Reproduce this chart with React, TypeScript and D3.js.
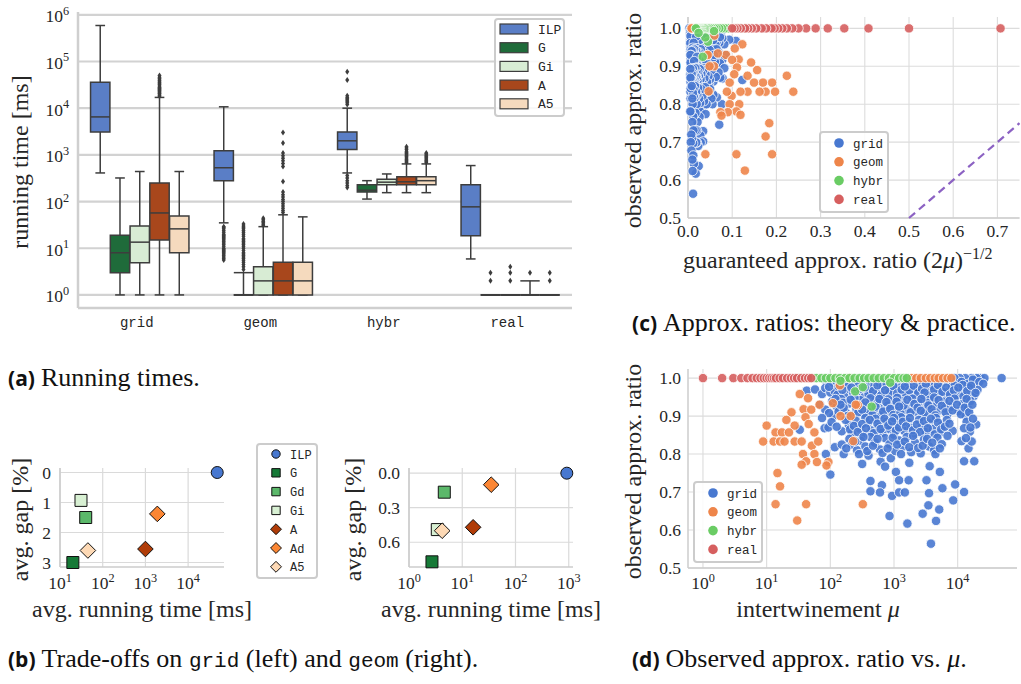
import React from 'react';
import * as d3 from 'd3';

const SERIF = "'Liberation Serif', 'DejaVu Serif', serif";
const MONO = "'Liberation Mono', 'DejaVu Sans Mono', monospace";
const SANS = "'Open Sans', 'DejaVu Sans', sans-serif";
const TXT = '#262626';
const TICK = 17.5;
const LABEL = 24;

// ---------------- (a) running times ----------------
const categories = ['grid', 'geom', 'hybr', 'real'];
const algorithms = ['ILP', 'G', 'Gi', 'A', 'A5'];
const boxColors = ['#5a7ec6', '#1f6b3a', '#d8ecd4', '#a8471c', '#f5dabe'];
// [lower whisker, q1, median, q3, upper whisker]  (ms)
const gridBoxes = [[410, 3100, 6500, 36000, 590000], [1, 3, 8, 19, 320], [1, 4.9, 13.5, 30, 440], [1, 15, 57, 250, 17000], [1, 8, 26, 49, 440]];
const geomBoxes = [[35, 280, 530, 1230, 10700], [1, 1, 1, 1, 3], [1, 1, 2, 4, 29], [1, 1, 2, 5, 52], [1, 1, 2, 5, 47]];
const hybrBoxes = [[410, 1300, 2000, 3100, 10000], [113, 160, 175, 230, 280], [155, 230, 260, 300, 390], [155, 230, 265, 340, 640], [155, 230, 280, 340, 640]];
const realBoxes = [[5.9, 18.5, 77, 230, 590], [1, 1, 1, 1, 1], [1, 1, 1, 1, 1], [1, 1, 1, 1, 2], [1, 1, 1, 1, 1]];
const gridFliers = [[], [], [], [18000, 19000, 20000, 21000, 22000, 23000, 24000, 25000, 26000, 27000, 28000, 30000, 32000, 34000, 36000, 38000, 40000, 43000, 46000, 50000], []];
const geomFliers = [
  [5.6, 6, 6.5, 7, 7.5, 8, 8.5, 9, 9.5, 10, 11, 12, 13, 14, 15, 16, 17, 18, 19, 20, 22, 24, 26, 28, 29],
  [3.5, 4, 4.5, 5, 5.5, 6, 6.5, 7, 7.5, 8, 9, 10, 11, 12, 13, 14, 15, 16, 18, 20, 22, 24, 26, 28, 30, 33],
  [31, 33, 36, 38, 41, 44],
  [58, 64, 72, 80, 90, 100, 110, 125, 140, 160, 270, 560, 650, 750, 850, 960, 1100, 1800, 3000],
  [],
];
const hybrFliers = [
  [200, 220, 250, 280, 320, 360, 12000, 13000, 14000, 15000, 16000, 17000, 18500, 40000, 60000],
  [], [],
  [690, 730, 770, 810, 860, 910, 960, 1010, 1070, 1130, 1200, 1300, 1400, 1500],
  [690, 730, 770, 820, 870, 920, 980, 1040, 1100],
];
const realFliers = [[], [2, 3], [2, 3, 4], [3], [2, 3]];
const yTicksA = [1, 10, 100, 1e3, 1e4, 1e5, 1e6];

// ---------------- (b) trade-offs ----------------
const bAlgos = ['ILP', 'G', 'Gd', 'Gi', 'A', 'Ad', 'A5'];
const bColors = ['#4878d0', '#167a37', '#5bb86a', '#d8f0d3', '#b03c08', '#fb8634', '#fdd9b5'];
const bShapes = ['circle', 'square', 'square', 'square', 'diamond', 'diamond', 'diamond'];
const gridTime = [48000, 20, 40, 31, 1000, 1900, 45];
const gridGap = [0, 3.0, 1.5, 0.93, 2.55, 1.38, 2.6];
const geomTime = [920, 2.7, 4.6, 3.4, 16, 35, 4.2];
const geomGap = [0, 0.77, 0.165, 0.49, 0.47, 0.1, 0.5];

// ---------------- (c)/(d) approx ratio scatter ----------------
const scatterTypes = ['grid', 'geom', 'hybr', 'real'];
const scatterColors = ['#4878d0', '#ee854a', '#6acc64', '#d65f5f'];
// [log10(mu), observed approx. ratio]
const gridPoints = [
  [1.92, 0.995], [2.04, 0.988], [2.18, 0.997], [2.27, 0.985], [2.39, 0.993], [2.51, 0.99], [2.63, 0.986], [2.71, 0.996], [2.84, 0.989], [2.95, 0.993],
  [3.06, 0.986], [3.14, 0.997], [3.26, 0.99], [3.37, 0.985], [3.46, 0.994], [3.57, 0.988], [3.66, 0.996], [3.75, 0.986], [3.84, 0.992], [3.93, 0.987],
  [4.01, 0.995], [4.11, 0.988], [4.19, 0.993], [4.28, 0.986], [4.36, 1.0], [4.42, 1.0], [4.3, 1.0], [4.22, 1.0], [4.12, 1.0], [4.03, 1.0], [3.95, 1.0], [4.69, 1.0],
  [2.1, 0.99], [2.45, 0.997], [2.58, 0.992], [2.78, 0.985], [3.0, 0.991], [3.2, 0.987], [3.31, 0.996], [3.52, 0.99], [3.7, 0.985], [3.89, 0.997],
  [4.06, 0.99], [4.16, 0.985], [4.24, 0.996], [4.34, 0.99], [4.4, 0.985],
  [1.63, 0.967], [1.76, 0.97], [1.87, 0.958], [1.92, 0.974], [2.0, 0.962], [2.07, 0.965], [2.13, 0.978], [2.22, 0.953], [2.3, 0.971], [2.36, 0.96],
  [2.44, 0.98], [2.5, 0.955], [2.57, 0.968], [2.64, 0.976], [2.7, 0.952], [2.77, 0.964], [2.83, 0.979], [2.9, 0.958], [2.96, 0.97], [3.02, 0.951],
  [3.09, 0.975], [3.15, 0.962], [3.21, 0.983], [3.28, 0.956], [3.34, 0.969], [3.41, 0.977], [3.47, 0.953], [3.53, 0.966], [3.6, 0.981], [3.66, 0.958],
  [3.72, 0.972], [3.79, 0.95], [3.85, 0.963], [3.91, 0.978], [3.98, 0.955], [4.05, 0.968], [4.12, 0.96], [4.18, 0.975], [4.25, 0.952], [4.31, 0.969],
  [2.26, 0.982], [2.55, 0.984], [2.88, 0.983], [3.18, 0.955], [3.45, 0.984], [3.7, 0.957], [3.95, 0.98], [4.08, 0.982],
  [1.98, 0.977], [2.11, 0.956], [2.19, 0.969], [2.33, 0.975], [2.41, 0.963], [2.47, 0.972], [2.6, 0.958], [2.67, 0.966], [2.74, 0.981], [2.8, 0.955],
  [2.93, 0.963], [2.99, 0.979], [3.05, 0.96], [3.12, 0.97], [3.24, 0.968], [3.31, 0.98], [3.38, 0.961], [3.44, 0.972], [3.5, 0.985], [3.57, 0.955],
  [3.63, 0.97], [3.69, 0.982], [3.76, 0.964], [3.82, 0.975], [3.88, 0.957], [3.94, 0.968], [4.01, 0.975], [4.09, 0.952], [4.15, 0.966], [4.21, 0.98],
  [4.28, 0.961], [2.54, 0.975], [2.86, 0.968], [3.17, 0.978], [3.48, 0.962],
  [1.84, 0.93], [1.92, 0.917], [2.03, 0.939], [2.05, 0.9], [2.1, 0.925], [2.17, 0.945], [2.24, 0.91], [2.29, 0.933], [2.35, 0.903], [2.41, 0.92],
  [2.47, 0.942], [2.52, 0.907], [2.58, 0.928], [2.63, 0.947], [2.68, 0.915], [2.74, 0.935], [2.8, 0.902], [2.85, 0.922], [2.91, 0.944], [2.96, 0.908],
  [3.01, 0.93], [3.07, 0.918], [3.12, 0.94], [3.18, 0.904], [3.23, 0.926], [3.29, 0.946], [3.34, 0.912], [3.4, 0.934], [3.45, 0.9], [3.5, 0.921],
  [3.56, 0.943], [3.61, 0.909], [3.67, 0.93], [3.72, 0.915], [3.78, 0.938], [3.84, 0.905], [3.89, 0.925], [3.95, 0.946], [4.02, 0.913], [4.08, 0.932],
  [4.13, 0.9], [4.16, 0.92], [4.2, 0.94], [4.14, 0.945], [2.2, 0.935], [2.6, 0.912], [2.9, 0.928], [3.2, 0.916], [3.52, 0.935], [3.8, 0.92],
  [2.38, 0.948], [3.05, 0.948], [3.63, 0.949],
  [1.98, 0.908], [2.08, 0.945], [2.13, 0.912], [2.21, 0.922], [2.27, 0.9], [2.32, 0.943], [2.44, 0.91], [2.49, 0.928], [2.55, 0.936], [2.66, 0.903],
  [2.71, 0.925], [2.77, 0.945], [2.83, 0.912], [2.88, 0.937], [2.94, 0.919], [2.99, 0.903], [3.04, 0.938], [3.1, 0.908], [3.15, 0.928], [3.21, 0.943],
  [3.26, 0.91], [3.32, 0.932], [3.37, 0.922], [3.43, 0.945], [3.48, 0.908], [3.54, 0.928], [3.59, 0.918], [3.65, 0.902], [3.7, 0.942], [3.75, 0.927],
  [3.81, 0.91], [3.87, 0.94], [3.92, 0.915], [3.99, 0.93], [4.05, 0.905], [4.11, 0.922], [4.18, 0.91], [4.23, 0.93], [2.16, 0.93], [2.5, 0.917],
  [3.08, 0.925], [3.42, 0.914],
  [1.87, 0.895], [1.91, 0.868], [1.97, 0.87], [2.18, 0.86], [2.29, 0.877], [2.34, 0.855], [2.4, 0.888], [2.46, 0.867], [2.53, 0.852], [2.59, 0.882],
  [2.65, 0.862], [2.71, 0.893], [2.76, 0.871], [2.82, 0.856], [2.88, 0.885], [2.94, 0.865], [3.0, 0.851], [3.05, 0.879], [3.11, 0.897], [3.16, 0.861],
  [3.22, 0.884], [3.27, 0.868], [3.33, 0.853], [3.39, 0.89], [3.44, 0.872], [3.5, 0.858], [3.55, 0.881], [3.61, 0.866], [3.66, 0.895], [3.71, 0.854],
  [3.76, 0.876], [3.83, 0.89], [3.92, 0.861], [4.14, 0.885], [4.19, 0.859], [4.29, 0.878], [3.0, 0.895], [2.55, 0.895],
  [2.02, 0.884], [2.1, 0.872], [2.24, 0.89], [2.31, 0.865], [2.37, 0.874], [2.43, 0.858], [2.5, 0.879], [2.56, 0.868], [2.62, 0.89], [2.68, 0.855],
  [2.74, 0.88], [2.79, 0.866], [2.85, 0.893], [2.91, 0.875], [2.97, 0.886], [3.03, 0.862], [3.08, 0.87], [3.14, 0.885], [3.19, 0.873], [3.25, 0.895],
  [3.3, 0.863], [3.36, 0.878], [3.41, 0.858], [3.47, 0.887], [3.53, 0.868], [3.58, 0.893], [3.64, 0.852], [3.69, 0.883], [3.74, 0.865], [3.8, 0.872],
  [3.87, 0.88], [4.1, 0.868], [4.24, 0.893], [4.2, 0.87],
  [1.93, 0.8], [2.07, 0.818], [2.18, 0.825], [2.21, 0.8], [2.3, 0.84], [2.34, 0.825], [2.42, 0.81], [2.48, 0.835], [2.55, 0.82], [2.6, 0.796],
  [2.63, 0.845], [2.7, 0.83], [2.78, 0.812], [2.86, 0.842], [2.93, 0.826], [2.95, 0.789], [3.02, 0.808], [3.08, 0.836], [3.14, 0.82], [3.2, 0.845],
  [3.27, 0.805], [3.33, 0.83], [3.42, 0.802], [3.47, 0.838], [3.55, 0.82], [3.63, 0.81], [3.68, 0.843], [3.75, 0.826], [4.06, 0.834], [4.17, 0.815],
  [4.22, 0.833], [2.79, 0.78], [1.52, 0.864],
  [2.25, 0.815], [2.39, 0.833], [2.45, 0.8], [2.52, 0.845], [2.58, 0.808], [2.67, 0.822], [2.74, 0.84], [2.82, 0.803], [2.9, 0.815], [2.98, 0.843],
  [3.05, 0.825], [3.11, 0.8], [3.17, 0.833], [3.24, 0.818], [3.3, 0.848], [3.38, 0.816], [3.45, 0.822], [3.52, 0.84], [3.6, 0.83], [3.65, 0.8],
  [3.72, 0.815], [4.13, 0.842], [3.84, 0.848],
  [2.0, 0.746], [2.5, 0.774], [2.86, 0.767], [3.03, 0.753], [3.24, 0.777], [3.56, 0.768], [3.72, 0.753], [4.1, 0.781], [4.26, 0.781],
  [2.63, 0.729], [2.81, 0.718], [2.63, 0.702], [2.78, 0.699], [2.97, 0.69], [3.08, 0.699], [3.17, 0.699], [3.08, 0.731], [3.23, 0.731], [3.51, 0.731],
  [3.55, 0.697], [3.76, 0.71], [3.96, 0.72], [4.1, 0.7], [3.93, 0.678], [2.93, 0.637], [3.21, 0.617], [3.45, 0.643], [3.54, 0.665], [3.66, 0.624],
  [3.71, 0.654], [3.58, 0.564],
];
const geomPoints = [
  [1.52, 0.958], [1.65, 0.947], [1.83, 0.93], [1.58, 0.918], [1.7, 0.917], [1.39, 0.91], [1.61, 0.897], [1.31, 0.89], [1.44, 0.875], [1.0, 0.875],
  [1.66, 0.879], [1.14, 0.857], [1.24, 0.857], [1.35, 0.857], [1.75, 0.857], [0.945, 0.833], [1.11, 0.833], [1.21, 0.833], [1.28, 0.833], [1.44, 0.833],
  [1.55, 0.833], [1.71, 0.822], [1.81, 0.833], [1.75, 0.8], [1.57, 0.8], [1.62, 0.781], [1.55, 0.772], [1.79, 0.779], [1.97, 0.779], [1.94, 0.77],
  [1.17, 0.75], [1.21, 0.715], [1.14, 0.668], [1.62, 0.668], [1.48, 0.625], [2.04, 0.934], [2.16, 0.9], [2.32, 0.9], [2.43, 0.929], [2.36, 0.834],
  [2.51, 0.668], [2.15, 0.981], [2.4, 0.93],
  [2.3, 1.0], [3.28, 1.0], [3.35, 1.0], [3.42, 1.0], [3.5, 1.0], [3.57, 1.0], [3.64, 1.0], [3.7, 1.0], [3.77, 1.0], [3.84, 1.0], [3.9, 1.0],
];
const hybrPoints = [
  [1.47, 1.0], [1.55, 1.0], [1.62, 1.0], [1.7, 1.0], [1.78, 1.0], [1.86, 1.0], [1.93, 1.0], [2.0, 1.0], [2.08, 1.0], [2.15, 1.0], [2.23, 1.0], [2.3, 1.0],
  [2.38, 1.0], [2.46, 1.0], [2.53, 1.0], [2.6, 1.0], [2.68, 1.0], [2.76, 1.0], [2.84, 1.0], [2.92, 1.0], [3.0, 1.0], [3.08, 1.0], [3.15, 1.0], [3.2, 1.0],
  [2.16, 0.993], [2.39, 0.965], [2.51, 0.976], [2.65, 0.925], [2.94, 0.988],
];
const realPoints = [
  [0, 1.0], [0.301, 1.0], [0.477, 1.0], [0.602, 1.0], [0.699, 1.0], [0.778, 1.0], [0.845, 1.0], [0.903, 1.0], [0.954, 1.0], [1.0, 1.0], [1.041, 1.0],
  [1.079, 1.0], [1.114, 1.0], [1.146, 1.0], [1.204, 1.0], [1.255, 1.0], [1.322, 1.0], [1.38, 1.0], [1.431, 1.0], [1.477, 1.0], [1.544, 1.0], [1.602, 1.0],
  [1.653, 1.0], [1.699, 1.0],
];
const cXTicks = [0, 0.1, 0.2, 0.3, 0.4, 0.5, 0.6, 0.7];
const ratioTicks = [0.5, 0.6, 0.7, 0.8, 0.9, 1.0];
const dXTicks = [1, 10, 100, 1000, 10000];

function Pow10({ x, y, k, size = TICK, anchor = 'middle' }: any) {
  return (
    <text x={x} y={y} textAnchor={anchor} fontFamily={SERIF} fontSize={size} fill={TXT}>
      10<tspan dy={-7.5} fontSize={size * 0.7}>{k}</tspan>
    </text>
  );
}

function PanelA() {
  const left = 78, right = 572, top = 12, bottom = 308;
  const y = d3.scaleLog().domain([10 ** -0.28, 10 ** 6.06]).range([bottom, top]);
  const x = d3.scaleBand<string>().domain(categories).range([left, right]);
  const inner = d3.scaleBand<string>().domain(algorithms).range([x.bandwidth() * 0.1, x.bandwidth() * 0.9]);
  const bw = inner.bandwidth() * 0.98;
  const boxes = [gridBoxes, geomBoxes, hybrBoxes, realBoxes];
  const fliers = [gridFliers, geomFliers, hybrFliers, realFliers];
  const lc = '#3d3d3d';
  return (
    <g>
      {yTicksA.map((t) => (
        <line key={t} x1={left} x2={right} y1={y(t)} y2={y(t)} stroke="#d2d2d2" strokeWidth={2.2} />
      ))}
      <line x1={left} x2={left} y1={top} y2={bottom} stroke="#cfcfcf" strokeWidth={2.5} />
      <line x1={left} x2={right} y1={bottom} y2={bottom} stroke="#cfcfcf" strokeWidth={2.5} />
      {yTicksA.map((t) => (
        <Pow10 key={t} x={69} y={y(t) + 7.5} k={Math.round(Math.log10(t))} anchor="end" />
      ))}
      {categories.map((c) => (
        <text key={c} x={x(c)! + x.bandwidth() / 2 - 3} y={327} textAnchor="middle" fontFamily={MONO} fontSize={14} fill={TXT}>{c}</text>
      ))}
      <text transform={`translate(28,${(top + bottom) / 2 + 2}) rotate(-90)`} textAnchor="middle" fontFamily={SERIF} fontSize={LABEL} fill={TXT}>running time [ms]</text>
      {categories.map((c, ci) =>
        algorithms.map((a, ai) => {
          const [lo, q1, md, q3, hi] = boxes[ci][ai];
          const x0 = x(c)! + inner(a)! + (inner.bandwidth() - bw) / 2;
          const cx = x0 + bw / 2;
          const capW = q1 === q3 ? bw : bw / 2;
          return (
            <g key={c + a}>
              <line x1={cx} x2={cx} y1={y(q3)} y2={y(hi)} stroke={lc} strokeWidth={1.5} />
              <line x1={cx} x2={cx} y1={y(q1)} y2={y(lo)} stroke={lc} strokeWidth={1.5} />
              <line x1={cx - capW / 2} x2={cx + capW / 2} y1={y(hi)} y2={y(hi)} stroke={lc} strokeWidth={1.5} />
              <line x1={cx - capW / 2} x2={cx + capW / 2} y1={y(lo)} y2={y(lo)} stroke={lc} strokeWidth={1.5} />
              <path d={`M${x0},${y(q3)}H${x0 + bw}V${y(q1)}H${x0}Z`} fill={boxColors[ai]} stroke={lc} strokeWidth={1.5} />
              <line x1={x0} x2={x0 + bw} y1={y(md)} y2={y(md)} stroke={lc} strokeWidth={1.5} />
              {fliers[ci][ai].map((v, i) => (
                <path key={i} d={`M${cx},${y(v) - 3}L${cx + 2},${y(v)}L${cx},${y(v) + 3}L${cx - 2},${y(v)}Z`} fill={lc} />
              ))}
            </g>
          );
        })
      )}
      <rect x={495} y={19} width={69} height={97} rx={3} fill="white" fillOpacity={0.85} stroke="#cccccc" strokeWidth={2} />
      {algorithms.map((a, i) => (
        <g key={a}>
          <rect x={500} y={24 + i * 18.7} width={28} height={10} fill={boxColors[i]} stroke={lc} strokeWidth={1.2} />
          <text x={538} y={33.5 + i * 18.7} fontFamily={MONO} fontSize={13} fill={TXT}>{a}</text>
        </g>
      ))}
    </g>
  );
}

function marker(shape: string, cx: number, cy: number, s: number) {
  if (shape === 'circle') return `M${cx + s},${cy}A${s},${s} 0 1,1 ${cx - s},${cy}A${s},${s} 0 1,1 ${cx + s},${cy}Z`;
  if (shape === 'square') return `M${cx - s},${cy - s}H${cx + s}V${cy + s}H${cx - s}Z`;
  const d = s * 1.3;
  return `M${cx},${cy - d}L${cx + d},${cy}L${cx},${cy + d}L${cx - d},${cy}Z`;
}

function Tradeoff({ times, gaps, xDom, xRange, yDom, yTicks, yFmt, xTicks, yLabelX, yTickX }: any) {
  const top = 468, bottom = 567;
  const x = d3.scaleLog().domain(xDom).range(xRange);
  const y = d3.scaleLinear().domain(yDom).range([top, bottom]);
  const [l, r] = xRange;
  return (
    <g>
      {yTicks.map((t: number) => (
        <line key={'h' + t} x1={l} x2={r} y1={y(t)} y2={y(t)} stroke="#dadada" strokeWidth={1.2} />
      ))}
      {xTicks.map((t: number) => (
        <line key={'v' + t} x1={x(t)} x2={x(t)} y1={top} y2={bottom} stroke="#dadada" strokeWidth={1.2} />
      ))}
      <line x1={l} x2={l} y1={top} y2={bottom} stroke="#cccccc" strokeWidth={1.6} />
      <line x1={l} x2={r} y1={bottom} y2={bottom} stroke="#cccccc" strokeWidth={1.6} />
      {yTicks.map((t: number) => (
        <text key={'yl' + t} x={yTickX} y={y(t) + 6} textAnchor="end" fontFamily={SERIF} fontSize={TICK} fill={TXT}>{yFmt(t)}</text>
      ))}
      {xTicks.map((t: number) => (
        <Pow10 key={'xl' + t} x={x(t)} y={589} k={Math.round(Math.log10(t))} />
      ))}
      <text x={(l + r) / 2} y={617} textAnchor="middle" fontFamily={SERIF} fontSize={LABEL} fill={TXT}>avg. running time [ms]</text>
      <text transform={`translate(${yLabelX},${(top + bottom) / 2 + 2}) rotate(-90)`} textAnchor="middle" fontFamily={SERIF} fontSize={LABEL} fill={TXT}>avg. gap [%]</text>
      {bAlgos.map((a, i) => (
        <path key={a} d={marker(bShapes[i], x(times[i]), y(gaps[i]), 6)} fill={bColors[i]} stroke="#111" strokeWidth={1} />
      ))}
    </g>
  );
}

function PanelB() {
  return (
    <g>
      <Tradeoff times={gridTime} gaps={gridGap} xDom={[10, 10 ** 4.84]} xRange={[60, 224]} yDom={[-0.15, 3.15]} yTicks={[0, 1, 2, 3]}
        yFmt={(t: number) => d3.format('d')(t)} xTicks={[10, 100, 1000, 10000]} yLabelX={28} yTickX={51} />
      <Tradeoff times={geomTime} gaps={geomGap} xDom={[1, 10 ** 3.08]} xRange={[409, 573]} yDom={[-0.045, 0.815]} yTicks={[0, 0.3, 0.6]}
        yFmt={(t: number) => d3.format('.1f')(t)} xTicks={[1, 10, 100, 1000]} yLabelX={361} yTickX={400} />
      <rect x={257} y={444} width={60} height={134} rx={3} fill="white" stroke="#cccccc" strokeWidth={2} />
      {bAlgos.map((a, i) => (
        <g key={a}>
          <path d={marker(bShapes[i], 276, 454 + i * 18.8, 4.2)} fill={bColors[i]} stroke="#111" strokeWidth={1} />
          <text x={290} y={458.5 + i * 18.8} fontFamily={MONO} fontSize={12} fill={TXT}>{a}</text>
        </g>
      ))}
    </g>
  );
}

function ScatterLegend({ x, y }: any) {
  return (
    <g>
      <rect x={x} y={y} width={68} height={80} rx={3} fill="white" fillOpacity={0.85} stroke="#cccccc" strokeWidth={2} />
      {scatterTypes.map((t, i) => (
        <g key={t}>
          <circle cx={x + 19} cy={y + 11 + i * 18.8} r={4.8} fill={scatterColors[i]} />
          <text x={x + 33} y={y + 15.5 + i * 18.8} fontFamily={MONO} fontSize={12.5} fill={TXT}>{t}</text>
        </g>
      ))}
    </g>
  );
}

const allPoints = [gridPoints, geomPoints, hybrPoints, realPoints];

function Dots({ fx, fy }: any) {
  return (
    <g>
      {allPoints.map((pts, ti) =>
        pts.map((p, i) => (
          <circle key={ti + '-' + i} cx={fx(p[0])} cy={fy(p[1])} r={4.7} fill={scatterColors[ti]} fillOpacity={0.9} stroke="white" strokeWidth={0.8} />
        ))
      )}
    </g>
  );
}

function PanelC() {
  const left = 688, right = 1019.5, top = 17, bottom = 218;
  const x = d3.scaleLinear().domain([0, 0.75]).range([left, right]);
  const y = d3.scaleLinear().domain([0.5, 1.03]).range([bottom, top]);
  return (
    <g>
      {ratioTicks.map((t) => <line key={'h' + t} x1={left} x2={right} y1={y(t)} y2={y(t)} stroke="#dcdcdc" strokeWidth={1.1} />)}
      {cXTicks.map((t) => <line key={'v' + t} x1={x(t)} x2={x(t)} y1={top} y2={bottom} stroke="#dcdcdc" strokeWidth={1.1} />)}
      <line x1={left} x2={left} y1={top} y2={bottom} stroke="#cccccc" strokeWidth={1.5} />
      <line x1={left} x2={right} y1={bottom} y2={bottom} stroke="#cccccc" strokeWidth={1.5} />
      {ratioTicks.map((t) => (
        <text key={'yl' + t} x={681} y={y(t) + 6} textAnchor="end" fontFamily={SERIF} fontSize={TICK} fill={TXT}>{d3.format('.1f')(t)}</text>
      ))}
      {cXTicks.map((t) => (
        <text key={'xl' + t} x={x(t)} y={237} textAnchor="middle" fontFamily={SERIF} fontSize={TICK} fill={TXT}>{d3.format('.1f')(t)}</text>
      ))}
      <Dots fx={(lm: number) => x(1 / Math.sqrt(2 * 10 ** lm))} fy={y} />
      <line x1={x(0.5)} y1={y(0.5)} x2={x(0.75)} y2={y(0.75)} stroke="#8c62c3" strokeWidth={2.2} strokeDasharray="8,5" />
      <ScatterLegend x={820} y={132} />
      <text x={683} y={268} fontFamily={SERIF} fontSize={LABEL} fill={TXT}>
        guaranteed approx. ratio (2<tspan fontStyle="italic">μ</tspan>)<tspan dy={-9} fontSize={16}>−1/2</tspan>
      </text>
      <text transform={`translate(641,${(top + bottom) / 2 + 3}) rotate(-90)`} textAnchor="middle" fontFamily={SERIF} fontSize={LABEL} fill={TXT}>observed approx. ratio</text>
    </g>
  );
}

function PanelD() {
  const left = 688, right = 1017, top = 369, bottom = 568;
  const x = d3.scaleLog().domain([10 ** -0.235, 10 ** 4.9]).range([left, 1015]);
  const y = d3.scaleLinear().domain([0.5, 1.024]).range([bottom, top]);
  return (
    <g>
      {ratioTicks.map((t) => <line key={'h' + t} x1={left} x2={right} y1={y(t)} y2={y(t)} stroke="#dcdcdc" strokeWidth={1.1} />)}
      {dXTicks.map((t) => <line key={'v' + t} x1={x(t)} x2={x(t)} y1={top} y2={bottom} stroke="#dcdcdc" strokeWidth={1.1} />)}
      <line x1={left} x2={left} y1={top} y2={bottom} stroke="#cccccc" strokeWidth={1.5} />
      <line x1={left} x2={right} y1={bottom} y2={bottom} stroke="#cccccc" strokeWidth={1.5} />
      {ratioTicks.map((t) => (
        <text key={'yl' + t} x={681} y={y(t) + 6} textAnchor="end" fontFamily={SERIF} fontSize={TICK} fill={TXT}>{d3.format('.1f')(t)}</text>
      ))}
      {dXTicks.map((t) => (
        <Pow10 key={'xl' + t} x={x(t)} y={589} k={Math.round(Math.log10(t))} />
      ))}
      <Dots fx={(lm: number) => x(10 ** lm)} fy={y} />
      <ScatterLegend x={694} y={482} />
      <text x={818} y={617} textAnchor="middle" fontFamily={SERIF} fontSize={LABEL} fill={TXT}>
        intertwinement <tspan fontStyle="italic">μ</tspan>
      </text>
      <text transform={`translate(641,${(top + bottom) / 2 + 3}) rotate(-90)`} textAnchor="middle" fontFamily={SERIF} fontSize={LABEL} fill={TXT}>observed approx. ratio</text>
    </g>
  );
}

function Caption({ x, y, tag, children }: any) {
  return (
    <text x={x} y={y} fontFamily={SERIF} fontSize={26} fill="#111">
      <tspan fontFamily={SANS} fontWeight={700} fontSize={21}>({tag})</tspan>
      <tspan dx={6}>{children}</tspan>
    </text>
  );
}

export default function App() {
  return (
    <svg width={1021} height={684} style={{ position: 'absolute', left: 0, top: 0, background: 'white' }}>
      <PanelA />
      <PanelB />
      <PanelC />
      <PanelD />
      <Caption x={8} y={386} tag="a">Running times.</Caption>
      <text x={8} y={667} fontFamily={SERIF} fontSize={26} fill="#111">
        <tspan fontFamily={SANS} fontWeight={700} fontSize={21}>(b)</tspan>
        <tspan dx={6}>Trade-offs on </tspan>
        <tspan fontFamily={MONO} fontSize={21}>grid</tspan>
        <tspan> (left) and </tspan>
        <tspan fontFamily={MONO} fontSize={21}>geom</tspan>
        <tspan> (right).</tspan>
      </text>
      <Caption x={632} y={331} tag="c">Approx. ratios: theory &amp; practice.</Caption>
      <text x={632} y={667} fontFamily={SERIF} fontSize={26} fill="#111">
        <tspan fontFamily={SANS} fontWeight={700} fontSize={21}>(d)</tspan>
        <tspan dx={6}>Observed approx. ratio vs. </tspan>
        <tspan fontStyle="italic">μ</tspan>
        <tspan>.</tspan>
      </text>
    </svg>
  );
}
